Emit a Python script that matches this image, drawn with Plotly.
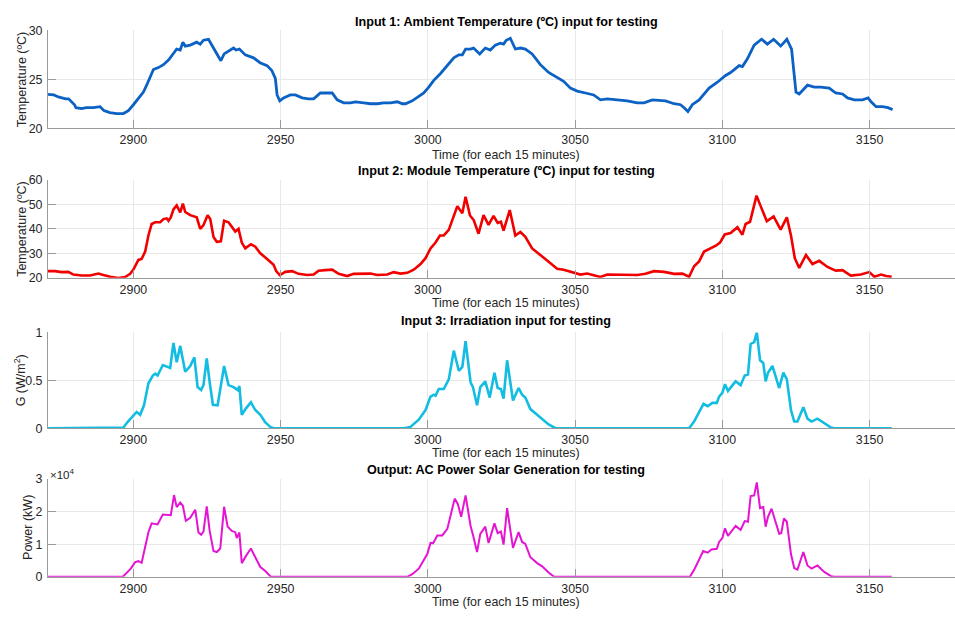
import plotly.graph_objects as go

# ---------------- data ----------------
amb_x = [2871, 2873, 2874.5, 2877, 2878, 2880, 2880.5, 2882.4, 2884, 2886.4, 2888.7, 2890, 2892, 2894.3,
         2896.6, 2898.3, 2900, 2901.7, 2903.4, 2904.5, 2905.7, 2906.8, 2908.5, 2910.2, 2912, 2913.6, 2914.7,
         2915.9, 2916.8, 2917.6, 2919.3, 2921.5, 2922.7, 2923.8, 2925.5, 2927.2, 2929.7, 2930.8, 2932.9, 2934,
         2934.9, 2936, 2938, 2940.8, 2943, 2945.4, 2947, 2948.2, 2948.8, 2949.7, 2951, 2953.3, 2955, 2957.3,
         2959.5, 2961.2, 2963.5, 2965.2, 2967.5, 2969.2, 2971.4, 2973.7, 2975.4, 2978.2, 2980.5, 2982.8, 2985,
         2987.3, 2989.6, 2991.3, 2992.4, 2994.7, 2997, 2998.6, 3000.3, 3002, 3004.3, 3006.6, 3008.8, 3010.5,
         3011.7, 3012.8, 3014.4, 3015.5, 3017.6, 3019.5, 3021.2, 3022.9, 3024.6, 3025.7, 3026.6, 3028, 3029.7,
         3031.4, 3033.1, 3035.4, 3038.2, 3041, 3043.9, 3046.1, 3048.4, 3050.7, 3053.5, 3056.3, 3058.6, 3060.9,
         3064.3, 3067.7, 3071.1, 3073.4, 3076.2, 3079, 3080.7, 3083.6, 3085.8, 3087, 3088.3, 3089.8, 3092.1,
         3095.5, 3098.3, 3101.1, 3102.8, 3105.7, 3106.8, 3108.5, 3110.8, 3113.3, 3115.3, 3117.4, 3119.8, 3121.9,
         3123.5, 3125, 3126.1, 3128.9, 3131.2, 3133.4, 3136.3, 3138.5, 3140.8, 3142.5, 3144.8, 3147.6, 3149.5,
         3150.5, 3152.2, 3154.4, 3156.2, 3157.8]
amb_y = [23.47, 23.4, 23.2, 23.0, 23.0, 22.4, 22.1, 22.0, 22.1, 22.1, 22.2, 21.8, 21.6, 21.5,
         21.5, 21.8, 22.4, 23.1, 23.7, 24.4, 25.2, 26.0, 26.2, 26.5, 27.0, 27.7, 28.1,
         28.0, 28.8, 28.4, 28.5, 28.8, 28.6, 29.0, 29.1, 28.2, 26.9, 27.6, 28.0, 28.2,
         28.0, 28.1, 27.5, 27.2, 26.7, 26.4, 25.9, 25.1, 23.4, 22.8, 23.1, 23.4, 23.4, 23.1,
         23.0, 23.0, 23.6, 23.6, 23.6, 22.9, 22.6, 22.6, 22.7, 22.6, 22.5, 22.5, 22.6,
         22.6, 22.7, 22.5, 22.5, 22.8, 23.3, 23.6, 24.2, 24.9, 25.6, 26.4, 27.2, 27.5,
         27.5, 28.1, 28.1, 28.2, 27.6, 28.2, 28.0, 28.5, 28.7, 28.6, 29.0, 29.2, 28.1,
         28.2, 28.1, 27.6, 26.5, 25.7, 25.2, 24.8, 24.1, 23.8, 23.6, 23.4, 22.9, 23.0,
         22.9, 22.8, 22.6, 22.6, 22.9, 22.8, 22.8, 22.5, 22.4, 22.1, 21.7, 22.4, 22.9,
         24.1, 24.7, 25.4, 25.7, 26.4, 26.3, 27.1, 28.5, 29.1, 28.6, 29.1, 28.4, 29.1,
         28.1, 23.7, 23.5, 24.4, 24.2, 24.2, 24.1, 23.6, 23.5, 23.1, 22.9, 22.9, 23.1,
         22.7, 22.2, 22.2, 22.1, 21.9]

mod_x = [2871, 2873.4, 2875.6, 2877.9, 2879.6, 2882.4, 2885.3, 2888.1, 2889.8, 2892.1, 2894.9, 2897.2,
         2898.9, 2900, 2901.7, 2902.8, 2904, 2905.1, 2906.2, 2907.4, 2909.1, 2910.2, 2911.3, 2911.9, 2912.7,
         2913.6, 2914.7, 2915.9, 2916.8, 2917.6, 2919.3, 2921.5, 2922.7, 2923.8, 2925.2, 2926.1, 2927.2,
         2928.3, 2929.7, 2930.8, 2932.3, 2933.4, 2934.6, 2935.7, 2936.8, 2938, 2939.9, 2941.4, 2943.1, 2945.4,
         2947.6, 2948.5, 2949.7, 2951.6, 2953.9, 2956.1, 2959, 2961.2, 2962.9, 2965.2, 2967.5, 2969.7, 2972.6,
         2974.8, 2978.2, 2980.5, 2982.8, 2986.2, 2988.4, 2990.7, 2993, 2995.2, 2997.5, 2999.2, 3000.9, 3002.6,
         3004.1, 3005.4, 3007.1, 3008.8, 3010, 3011.7, 3012.8, 3014.3, 3015.6, 3017.2, 3018.9, 3020.6, 3022.3,
         3023.7, 3024.8, 3025.7, 3027.8, 3029.7, 3031.4, 3033.1, 3035.4, 3038.2, 3041, 3043.9, 3046.1, 3048.4,
         3051.8, 3054.1, 3058.6, 3060.9, 3065.4, 3071.1, 3073.9, 3076.8, 3080.2, 3083.6, 3086.4, 3088.7,
         3090.4, 3092.1, 3093.8, 3096.1, 3097.8, 3099.2, 3100.8, 3102.8, 3105.1, 3106.8, 3107.9, 3109.4,
         3111.6, 3113, 3115.1, 3117.4, 3119.8, 3121.9, 3123.3, 3124.6, 3126.1, 3128.4, 3130.6, 3132.9, 3135.7,
         3138.5, 3140.8, 3143.6, 3147, 3149.9, 3151.6, 3153.9, 3155.6, 3157.5]
mod_y = [22.7, 22.7, 22.3, 22.4, 21.3, 20.9, 20.9, 21.7, 21.1, 20.4, 19.9, 20.3,
         21.6, 23.3, 27.3, 27.7, 30.7, 37.3, 42.0, 42.7, 42.7, 44.0, 44.3, 43.3, 44.7,
         48.0, 49.6, 46.7, 50.3, 46.9, 45.6, 44.7, 40.0, 41.6, 45.6, 44.0, 36.7,
         34.7, 34.9, 43.3, 42.7, 41.1, 38.9, 40.0, 34.4, 32.0, 33.7, 32.7, 30.0, 27.7,
         25.3, 22.7, 21.1, 22.4, 22.7, 21.6, 21.1, 21.3, 22.9, 23.1, 23.3, 21.6, 20.7,
         21.6, 21.6, 21.7, 21.1, 21.3, 22.3, 21.7, 22.0, 23.3, 25.6, 28.0, 32.0, 34.4,
         37.3, 37.3, 39.6, 45.3, 49.3, 46.4, 53.1, 45.5, 43.5, 38.0, 45.6, 41.6, 45.3,
         42.4, 42.9, 39.3, 47.7, 37.3, 38.7, 36.7, 32.0, 29.3, 26.7, 23.7, 23.3, 22.4,
         21.3, 21.7, 20.3, 21.3, 21.3, 21.1, 21.6, 22.7, 22.4, 21.6, 21.7, 20.4,
         24.7, 26.7, 30.7, 32.0, 33.1, 34.4, 37.7, 38.3, 40.7, 37.6, 42.0, 42.9,
         53.6, 49.3, 43.1, 45.1, 39.7, 44.7, 37.3, 28.0, 24.0, 29.3, 25.6, 26.9, 24.4,
         22.9, 23.1, 20.9, 21.3, 22.3, 20.4, 21.3, 20.7, 20.4]

irr_x = [2871, 2896, 2896.6, 2898.3, 2900, 2901.1, 2902.3, 2903.6, 2905.1, 2906.6, 2907.4, 2908.2, 2910,
         2911.1, 2912.5, 2913.6, 2914.7, 2915.9, 2917.6, 2919.3, 2920.7, 2921.8, 2923, 2923.8, 2924.9, 2925.9,
         2927, 2928.6, 2930.8, 2932.3, 2934, 2935.4, 2936, 2936.8, 2938.3, 2939.9, 2941.4, 2943.1, 2944.8,
         2946.5, 2947.6, 2991.8, 2994.1, 2996.9, 2999.2, 3000.9, 3002, 3002.6, 3003.7, 3005.4, 3007.1, 3008.8,
         3010.5, 3011.7, 3012.8, 3014.5, 3015.3, 3016.7, 3017.8, 3019.5, 3021, 3022.6, 3023.7, 3024.8, 3025.7,
         3026.9, 3028.9, 3030.8, 3032, 3033.1, 3034.8, 3037.1, 3038.8, 3041, 3043.3, 3088.7, 3090.4, 3092.1,
         3093.6, 3095, 3096.6, 3098.1, 3098.9, 3100, 3100.9, 3101.9, 3104.5, 3106.2, 3107.6, 3108.7, 3109.6,
         3110.8, 3111.7, 3112.8, 3113.9, 3114.7, 3115.5, 3117, 3118.1, 3119.3, 3120.7, 3121.9, 3123.3, 3124.4,
         3125.5, 3127.5, 3128.9, 3130.3, 3132.3, 3134.6, 3136.9, 3138, 3157.5]
irr_y = [0, 0, 0.007, 0.075, 0.14, 0.17, 0.14, 0.24, 0.47, 0.55, 0.57, 0.55, 0.66,
         0.65, 0.63, 0.89, 0.69, 0.86, 0.59, 0.65, 0.74, 0.43, 0.40, 0.45, 0.73, 0.48,
         0.245, 0.24, 0.65, 0.45, 0.43, 0.40, 0.44, 0.14, 0.21, 0.27, 0.19, 0.14, 0.06,
         0.014, 0, 0, 0.014, 0.09, 0.19, 0.33, 0.35, 0.34, 0.41, 0.41, 0.51, 0.81,
         0.60, 0.64, 0.91, 0.48, 0.43, 0.24, 0.43, 0.49, 0.32, 0.58, 0.42, 0.41, 0.31,
         0.71, 0.29, 0.42, 0.35, 0.32, 0.20, 0.14, 0.10, 0.04, 0, 0, 0.07, 0.17,
         0.255, 0.23, 0.265, 0.265, 0.33, 0.37, 0.46, 0.39, 0.49, 0.45, 0.55, 0.56, 0.88,
         0.90, 1.0, 0.71, 0.68, 0.49, 0.58, 0.65, 0.54, 0.42, 0.58, 0.51, 0.19, 0.07,
         0.07, 0.22, 0.10, 0.07, 0.10, 0.05, 0.007, 0, 0]

pow_x = [2871, 2896.4, 2897.7, 2899.1, 2900.6, 2901.7, 2902.8, 2904, 2905.1, 2906.2, 2907.4, 2908.2, 2910,
         2911.3, 2912.7, 2913.8, 2914.7, 2915.9, 2916.8, 2917.8, 2919.3, 2921, 2922.1, 2923, 2923.8, 2924.9,
         2925.9, 2927.2, 2928.3, 2929.5, 2930.8, 2932, 2933.4, 2934.6, 2935.1, 2936, 2936.8, 2938.3, 2939.9,
         2941.4, 2943.1, 2944.8, 2946.7, 2993, 2994.7, 2996.9, 2998.6, 2999.8, 3000.9, 3001.8, 3003.2, 3004.9,
         3006.6, 3007.7, 3009.1, 3010.2, 3011.3, 3012.8, 3014.5, 3015.3, 3016.7, 3017.8, 3019.5, 3020.6,
         3022.6, 3023.7, 3024.8, 3025.7, 3026.9, 3028.9, 3030.8, 3032, 3033.1, 3034.8, 3037.1, 3038.8, 3041,
         3042.9, 3089, 3090.6, 3092.1, 3093.5, 3095, 3096.3, 3098.1, 3098.9, 3100, 3100.9, 3101.9, 3104.5,
         3106.2, 3107.6, 3108.7, 3109.6, 3110.8, 3111.7, 3112.8, 3113.9, 3114.7, 3115.5, 3116.7, 3118.1,
         3119.3, 3120, 3120.9, 3121.9, 3123.3, 3124.4, 3125.5, 3127.5, 3128.9, 3130.3, 3132.3, 3134.6, 3136.9,
         3138, 3157.5]
pow_y = [0, 0, 1200, 2500, 4500, 4800, 4300, 8900, 13700, 16400, 16200, 16100, 19100,
         18900, 18900, 25100, 21400, 22800, 21800, 17200, 18100, 20600, 13600, 12900, 13900, 21600,
         14100, 7900, 7600, 8700, 21500, 15400, 14100, 13700, 11900, 13600, 4200, 6500, 8700,
         6000, 3000, 1800, 0, 0, 800, 2500, 5200, 7000, 10400, 10300, 12700, 12700,
         14700, 18900, 24000, 22300, 18400, 25000, 15600, 12900, 7600, 13200, 15400, 10400,
         16400, 13400, 13900, 9900, 21100, 8900, 13700, 10700, 10100, 6000, 4200, 3200, 1300,
         0, 0, 2500, 5500, 7900, 7400, 8400, 8600, 10700, 11900, 14900, 12600, 15600,
         14400, 17100, 16900, 24800, 25000, 29000, 21100, 21400, 15400, 18400, 20900, 16900,
         13200, 13400, 17900, 16900, 7000, 2700, 2200, 7600, 3500, 2500, 3500, 1500, 200,
         0, 0]

titles = ["Input 1: Ambient Temperature (ºC) input for testing",
          "Input 2: Module Temperature (ºC) input for testing",
          "Input 3: Irradiation input for testing",
          "Output: AC Power Solar Generation for testing"]
ylabels = ["Temperature (ºC)", "Temperature (ºC)", "G (W/m<sup>2</sup>)", "Power (kW)"]
xlabel = "Time (for each 15 minutes)"
x_ticks = [2900, 2950, 3000, 3050, 3100, 3150]
y_ticks = [[20, 25, 30], [20, 30, 40, 50, 60], [0, 0.5, 1], [0, 10000, 20000, 30000]]
y_ticktext = [["20", "25", "30"], ["20", "30", "40", "50", "60"], ["0", "0.5", "1"], ["0", "1", "2", "3"]]
y_ranges = [[20, 30], [20, 60], [0, 1], [0, 30000]]
x_range = [2871, 3179]

# ---------------- layout geometry (pixels) ----------------
W, H = 955, 619
FONT = "Liberation Sans, Arial, Helvetica, sans-serif"
TXT = "#262626"
plot_px = [(24, 124), (177, 277), (333, 431), (483, 583)]  # top, bottom
title_px = [15, 168, 321, 474]
xlab_px = [151, 303, 456, 609]
ylab_px = [(22, 74), (22, 227), (20, 382), (28, 533)]
center_x = 506
left_px = 48

series = [(amb_x, amb_y, "#0b62c4", 2.8),
          (mod_x, mod_y, "#f20000", 2.6),
          (irr_x, irr_y, "#13bde2", 2.6),
          (pow_x, pow_y, "#e514d2", 2.0)]

fig = go.Figure()
annotations = []
for i, (xs, ys, col, lw) in enumerate(series):
    n = "" if i == 0 else str(i + 1)
    fig.add_trace(go.Scatter(x=xs, y=ys, mode="lines", line=dict(color=col, width=lw),
                             xaxis="x" + n, yaxis="y" + n, showlegend=False, hoverinfo="skip"))
    top, bot = plot_px[i]
    axis_common = dict(showline=True, linecolor="#9a9a9a", linewidth=1, ticks="inside", ticklen=8,
                       tickcolor="#9a9a9a", tickwidth=1, showgrid=True, gridcolor="#e8e8e8",
                       zeroline=False, tickfont=dict(family=FONT, size=12.4, color=TXT), mirror=False)
    fig.layout["xaxis" + n] = dict(domain=[left_px / W, 1.0], range=x_range, tickvals=x_ticks,
                                   anchor="y" + n, **axis_common)
    fig.layout["yaxis" + n] = dict(domain=[1 - bot / H, 1 - top / H], range=y_ranges[i],
                                   tickvals=y_ticks[i], ticktext=y_ticktext[i], anchor="x" + n,
                                   ticklabelstandoff=2, **axis_common)
    annotations.append(dict(text="<b>" + titles[i] + "</b>", x=center_x / W, y=1 - title_px[i] / H,
                            xref="paper", yref="paper", showarrow=False, xanchor="center", yanchor="middle",
                            font=dict(family=FONT, size=12.6, color="#000000")))
    annotations.append(dict(text=xlabel, x=center_x / W, y=1 - xlab_px[i] / H,
                            xref="paper", yref="paper", showarrow=False, xanchor="center", yanchor="middle",
                            font=dict(family=FONT, size=12.4, color=TXT)))
    lx, ly = ylab_px[i]
    annotations.append(dict(text=ylabels[i], x=lx / W, y=1 - ly / H, textangle=-90,
                            xref="paper", yref="paper", showarrow=False, xanchor="center", yanchor="middle",
                            font=dict(family=FONT, size=12.5, color=TXT)))

annotations.append(dict(text="×10<sup>4</sup>", x=left_px / W, y=1 - 478 / H, xref="paper", yref="paper",
                        showarrow=False, xanchor="left", yanchor="middle",
                        font=dict(family=FONT, size=11.5, color=TXT)))

fig.update_layout(width=W, height=H, margin=dict(l=0, r=0, t=0, b=0),
                  paper_bgcolor="white", plot_bgcolor="white", annotations=annotations)
fig.write_html("out.html")
